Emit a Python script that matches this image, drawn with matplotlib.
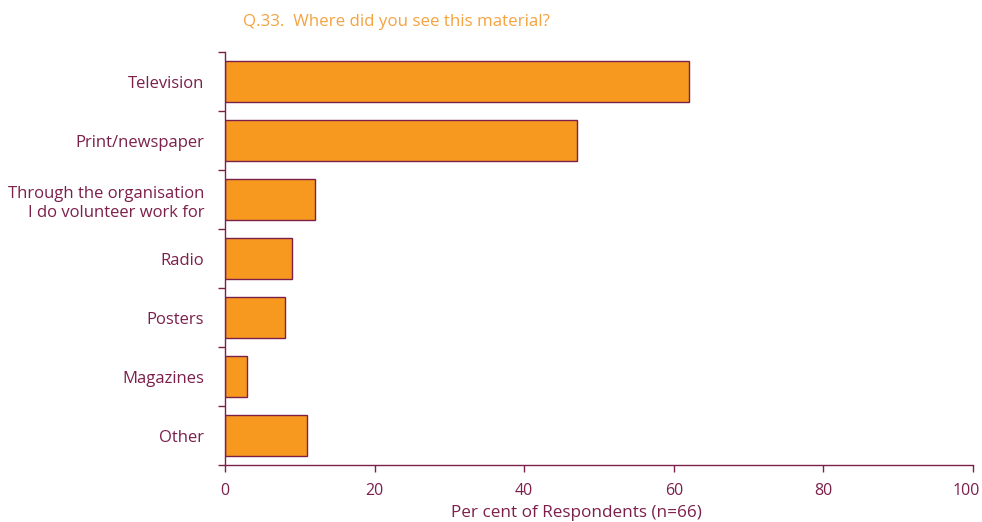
import matplotlib.pyplot as plt
import matplotlib.transforms as mtransforms

# Survey responses, Q.33
sources = ['Television', 'Print/newspaper', 'Through the organisation\nI do volunteer work for',
           'Radio', 'Posters', 'Magazines', 'Other']
percent = [62, 47, 12, 9, 8, 3, 11]
x_ticks = [0, 20, 40, 60, 80, 100]

maroon = '#7b1f4b'
orange = '#f7991f'
plt.rcParams['font.family'] = ['Open Sans', 'DejaVu Sans']

fig = plt.figure(figsize=(9.82, 5.22), dpi=100)
ax = fig.add_axes([225 / 982, 1 - 465 / 522, 748 / 982, 413 / 522])

pos = list(range(len(sources)))
ax.barh(pos, percent, height=0.68, color=orange, edgecolor=maroon, linewidth=1)

ax.set_xlim(0, 100)
ax.set_ylim(len(sources) - 0.5, -0.5)
ax.set_xticks(x_ticks)
ax.set_xticklabels([str(t) for t in x_ticks], fontsize=11.5, color=maroon)
ax.tick_params(axis='x', length=5, width=1, color=maroon, pad=8)
# keep the last tick label inside the figure
last = ax.get_xticklabels()[-1]
last.set_transform(last.get_transform() + mtransforms.ScaledTranslation(-7 / 100, 0, fig.dpi_scale_trans))

# category labels sit between boundary ticks
ax.set_yticks([p - 0.5 for p in pos] + [len(sources) - 0.5])
ax.set_yticklabels([])
ax.set_yticks(pos, minor=True)
ax.set_yticklabels(sources, minor=True, fontsize=12, color=maroon, linespacing=1.3)
ax.tick_params(axis='y', which='major', length=5, width=1, color=maroon)
ax.tick_params(axis='y', which='minor', length=0, pad=15)

for side in ['top', 'right']:
    ax.spines[side].set_visible(False)
for side in ['left', 'bottom']:
    ax.spines[side].set_color(maroon)
    ax.spines[side].set_linewidth(1)

fig.text(576 / 982, 1 - 513 / 522, 'Per cent of Respondents (n=66)', fontsize=12.3,
         color=maroon, ha='center', va='center')
fig.text(243 / 982, 1 - 22 / 522, 'Q.33.  Where did you see this material?', fontsize=12.2,
         color='#f5a340', ha='left', va='center')

fig.savefig('out.png', dpi=100)
